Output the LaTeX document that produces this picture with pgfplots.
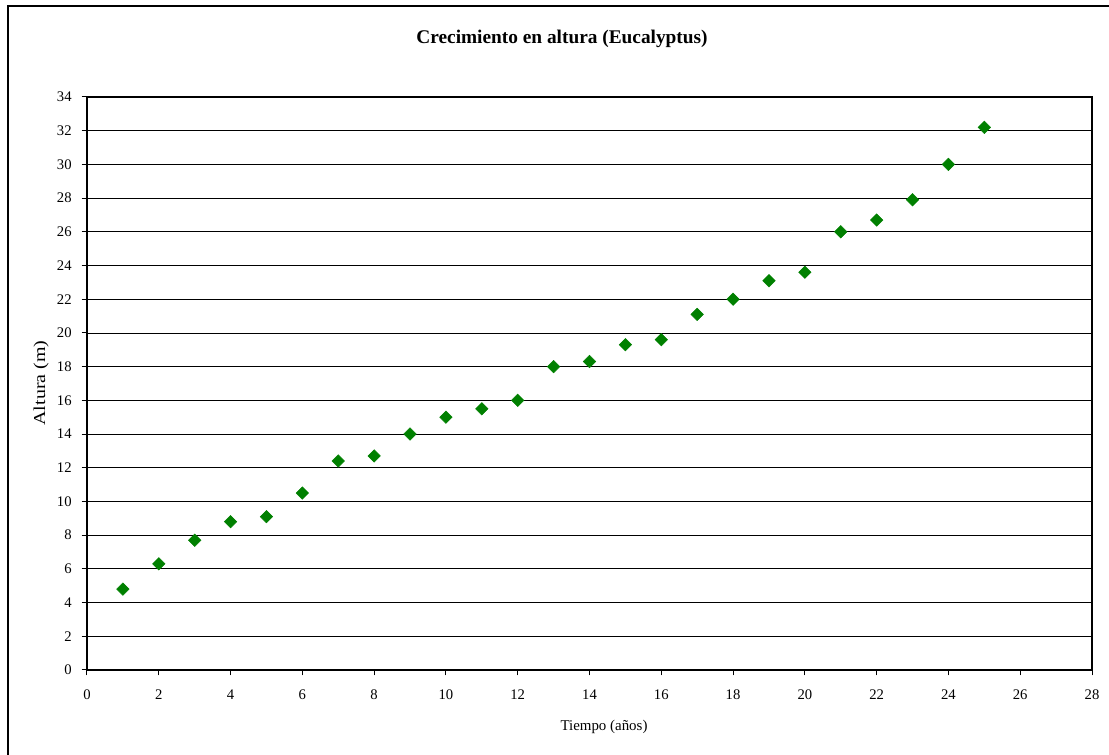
\documentclass[border=0pt]{standalone}
\usepackage{pgfplots}
\pgfplotsset{compat=1.18}
\usepackage{fontspec}
\setmainfont{Liberation Serif}

\definecolor{markgreen}{RGB}{0,128,0}

\begin{document}
\begin{tikzpicture}[x=0.75pt,y=0.75pt]
  % page frame: chart area, its right and bottom edges fall outside the page
  \clip (-87,-85) rectangle (1022,670);
  \useasboundingbox (-87,-85) rectangle (1022,670);
  \draw[line width=1.5pt,black] (-79,664) rectangle (1040,-110);
  \begin{axis}[
    at={(0,0)}, anchor=origin,
    scale only axis,
    width=753.75pt, height=429.75pt,
    xmin=0, xmax=28, ymin=0, ymax=34,
    xtick={0,2,...,28}, ytick={0,2,...,34},
    xtick pos=bottom, ytick pos=left,
    tick align=outside,
    major tick length=4pt,
    tick style={black, line width=0.75pt},
    axis line style={black, line width=1pt},
    ymajorgrids,
    major grid style={black, line width=0.6pt},
    ticklabel style={font=\fontsize{11}{13}\selectfont},
    /pgf/number format/assume math mode=true,
    xticklabel style={yshift=-7pt},
    yticklabel style={xshift=-4pt},
    clip=false,
  ]
    \addplot[only marks, mark=square*, mark size=3.3pt,
      mark options={rotate=45, fill=markgreen, draw=markgreen}]
      coordinates {
        (1,4.8) (2,6.3) (3,7.7) (4,8.8) (5,9.1) (6,10.5) (7,12.4)
        (8,12.7) (9,14.0) (10,15.0) (11,15.5) (12,16.0) (13,18.0)
        (14,18.3) (15,19.3) (16,19.6) (17,21.1) (18,22.0) (19,23.1)
        (20,23.6) (21,26.0) (22,26.7) (23,27.9) (24,30.0) (25,32.2)
      };
  \end{axis}
  \node[font=\fontsize{14.5}{17}\selectfont\bfseries] at (475,631) {Crecimiento en altura (Eucalyptus)};
  \node[font=\fontsize{11.2}{13}\selectfont] at (517,-57) {Tiempo (años)};
  \node[font=\fontsize{12.5}{15}\selectfont, rotate=90, xscale=1.2] at (-46,287) {Altura (m)};
\end{tikzpicture}
\end{document}
